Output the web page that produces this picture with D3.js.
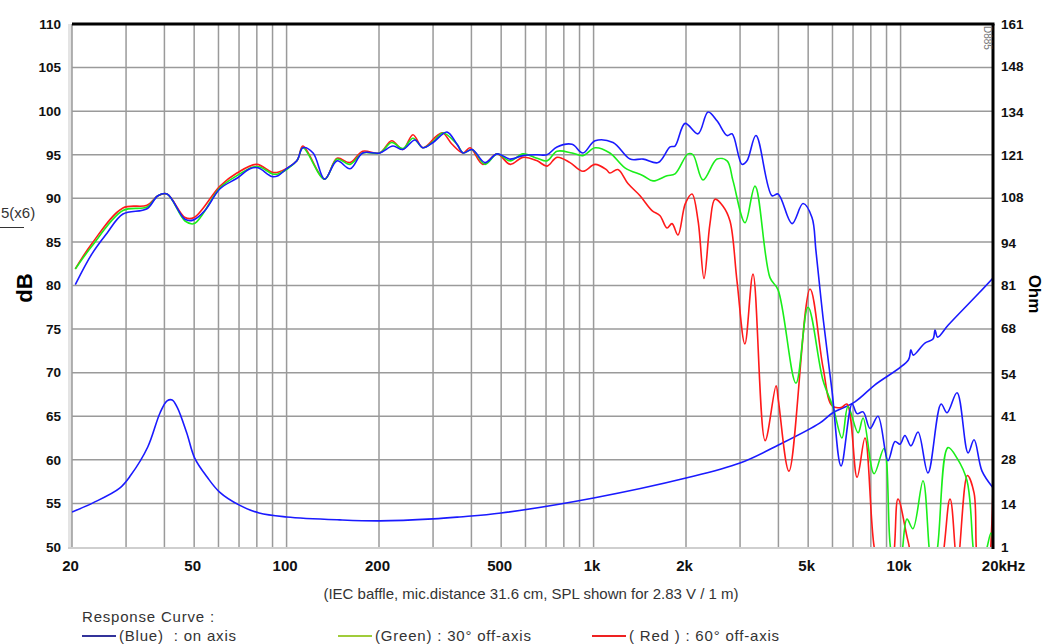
<!DOCTYPE html>
<head>
<meta charset="utf-8">
<script src="https://d3js.org/d3.v7.min.js"></script>
<style>
body { margin:0; background:#fff; }
svg { font-family: "Liberation Sans", Arial, sans-serif; }
.grid line { stroke: #9a9a9a; stroke-width: 1.5px; }
.axis text { font-weight: bold; font-size: 13.5px; fill: #111; }
.axis--x text { font-family: "Liberation Sans Narrow", "Liberation Sans", Arial, sans-serif; font-size: 15px; }
.curve { fill: none; stroke-width: 1.6px; stroke-linejoin: round; }
.legend text { font-size: 15px; letter-spacing: 0.8px; fill: #333; white-space: pre; }
</style>
</head>
<body>
<script>
// tick labels
var dbTicks = [50, 55, 60, 65, 70, 75, 80, 85, 90, 95, 100, 105, 110];
var ohmTicks = [1, 14, 28, 41, 54, 68, 81, 94, 108, 121, 134, 148, 161];
var freqLabels = [20, 50, 100, 200, 500, 1000, 2000, 5000, 10000, 20000];
var freqGrid = [20,30,40,50,60,70,80,90,100,200,300,400,500,600,700,800,900,
                1000,2000,3000,4000,5000,6000,7000,8000,9000,10000,20000];

// (Blue) on axis
var blueFreq = [20.5,23.2,26,29.3,35.1,38.1,40.8,46.7,49.6,54.2,60.7,68.9,76,80.7,89.6,93.8,100,108,113,122,133,146,161,177,201,222,239,262,278,300,333,359,376,402,443,485,535,589,655,705,760,851,923,1011,1157,1315,1450,1623,1775,1842,1986,2188,2360,2523,2722,2825,3043,3160,3380,3812,3990,4430,4810,5145,5300,5590,5980,6400,6950,7215,7550,7950,8440,9100,9590,9960,10330,10810,11400,12280,13550,14170,15270,16590,17350,18420,20000];
var blueDb = [80.1,83.6,86.0,88.2,88.8,90.3,90.5,87.6,87.5,88.6,91.1,92.3,93.4,93.5,92.5,92.6,93.4,94.3,95.8,95.2,92.2,94.3,93.4,95.2,95.2,96.0,95.6,96.7,95.8,96.4,97.6,96.2,95.2,95.6,94.1,95.1,94.5,94.9,95.0,95.0,95.9,96.2,95.2,96.6,96.4,94.5,94.5,94.1,95.9,96.0,98.6,97.4,99.9,98.9,97.2,97.4,93.9,94.3,97.2,90.3,90.5,87.1,89.4,87.8,84.0,76.3,67.9,59.3,66.4,65.3,65.5,63.6,65.0,59.9,62.1,61.8,62.8,61.6,63.2,58.5,66.4,65.4,67.7,60.8,62.3,58.7,56.8];

// (Green) 30 deg off axis
var greenFreq = [20.5,23.2,29.3,35.1,38.1,40.8,46.7,50,60.7,68.9,77.8,81.9,90,93.8,108,113,133,146,161,177,201,220,239,258,278,300,323,359,376,402,443,485,535,589,655,705,760,851,923,1011,1130,1265,1450,1562,1734,1842,2030,2108,2272,2523,2722,2846,3114,3356,3755,3990,4563,4994,5590,6030,6442,6740,7270,7550,8195,8830,9240,9590,10030,10490,10970,11830,12380,12660,13200,14270,15270,16460,17220,17650,18970,19700,20000];
var greenDb = [81.9,84.5,88.6,89.0,90.3,90.5,87.4,87.1,91.2,92.6,93.6,93.6,92.8,92.8,94.3,95.8,92.2,94.5,93.9,95.2,95.2,96.4,95.7,96.9,95.8,96.5,97.5,96.2,95.2,95.6,93.9,95.1,94.3,95.1,94.6,94.3,95.4,95.2,94.9,95.8,95.2,93.5,92.6,92.0,92.6,92.8,95.1,95.0,92.1,94.5,94.3,92.0,87.2,91.4,80.9,79.5,68.8,77.5,69.1,66.0,62.5,66.1,63.1,64.8,58.4,61.3,50.4,46.5,48.5,53.2,52.1,57.6,50,46.5,50,61.4,60.2,57.6,50,46.5,49.5,51.6,50.5];

// ( Red ) 60 deg off axis
var redFreq = [20.5,23.2,29.3,35.1,38.1,40.8,46.7,50,60.7,68.9,80,89.6,93.8,108,113,133,146,161,177,201,220,239,258,278,309,323,346,376,396,436,485,535,589,655,705,760,838,923,1011,1100,1130,1200,1294,1417,1550,1646,1734,1801,1883,1990,2092,2190,2289,2394,2486,2640,2782,2932,3110,3306,3620,3930,4000,4330,5070,5590,5980,6400,6690,7215,7656,8195,8700,9300,9808,10570,11500,13000,14490,15300,16500,17350,17870,19000,20000];
var redDb = [81.9,84.8,88.9,89.2,90.3,90.5,87.8,87.8,91.4,92.9,93.9,93.0,93.0,94.3,96.0,92.2,94.6,94.1,95.4,95.2,96.6,95.6,97.3,95.8,97.2,97.5,96.2,95.2,95.8,93.9,95.1,93.9,94.7,94.3,93.7,94.7,94.1,93.1,93.9,93.3,92.9,93.3,91.7,90.3,88.6,88.0,86.6,87.1,85.8,89.4,90.5,87.4,80.8,87.1,89.9,89.1,87.4,80.5,73.3,81.3,62.2,68.5,66.8,58.7,79.6,70.6,66.2,66.0,66.4,58.0,62.5,50.1,46,47,55.5,50.7,46,46,55.5,48,58.2,56.2,48,46,57];

// impedance (right axis, Ohm)
var impFreq = [20,23.4,28.6,31.1,35.3,38.7,40.8,42.4,44,47.3,50.2,55.1,60.5,70.2,81.4,100,149,201,300,366,500,1000,2000,3000,4000,5450,6000,7100,8250,10600,10800,11000,12000,12750,12950,13200,14300,18000,20000];
var impOhm = [11.7,14.5,19.0,23.0,31.6,42.0,45.7,46.0,43.8,35.9,28.2,22.4,17.8,13.8,11.4,10.2,9.3,9.0,9.6,10.2,11.4,16.0,22.1,26.7,32.2,38.9,42.0,45.4,50.6,58.2,61.3,59.7,63.4,64.6,67.4,65.2,68.9,78.7,83.3];

var margin = {top: 24, right: 57, bottom: 97, left: 72},
    width = 1050 - margin.left - margin.right,
    height = 644 - margin.top - margin.bottom;

var svg = d3.select("body").append("svg")
    .attr("width", 1050)
    .attr("height", 644);

var g = svg.append("g")
    .attr("transform", "translate(" + margin.left + "," + margin.top + ")");

var x = d3.scaleLog().domain([20, 20000]).range([0, width]);
var y = d3.scaleLinear().domain([50, 110]).range([height, 0]);
var yOhm = d3.scaleLinear().domain([1, 161]).range([height, 0]);

// light frame left / bottom
g.append("rect")
    .attr("x", -4).attr("y", 0)
    .attr("width", 4).attr("height", height + 2)
    .attr("fill", "#e4e4e4");
g.append("rect")
    .attr("x", -4).attr("y", height)
    .attr("width", width + 4).attr("height", 2)
    .attr("fill", "#cfcfcf");

// grid
var grid = g.append("g").attr("class", "grid");
grid.selectAll(".v").data(freqGrid).enter().append("line")
    .attr("x1", d => x(d)).attr("x2", d => x(d))
    .attr("y1", 0).attr("y2", height);
grid.selectAll(".h").data(dbTicks.slice(1, -1)).enter().append("line")
    .attr("x1", 0).attr("x2", width)
    .attr("y1", d => y(d)).attr("y2", d => y(d));

// curves
g.append("clipPath").attr("id", "plot")
  .append("rect").attr("width", width).attr("height", height);

var line = d3.line()
    .x(d => x(d[0]))
    .y(d => d[2] ? yOhm(d[1]) : y(d[1]))
    .curve(d3.curveCatmullRom.alpha(0.5));

var series = [
  {f: impFreq, v: impOhm, color: "#1a1aff", ohm: true},
  {f: redFreq, v: redDb, color: "#ff1a1a"},
  {f: greenFreq, v: greenDb, color: "#1aee1a"},
  {f: blueFreq, v: blueDb, color: "#1a1aff"}
];

var curves = g.append("g").attr("clip-path", "url(#plot)");
series.forEach(s => {
  curves.append("path")
      .datum(s.f.map((f, i) => [f, s.v[i], s.ohm]))
      .attr("class", "curve")
      .attr("stroke", s.color)
      .attr("d", line);
});

// heavy frame top / right
g.append("line").attr("x1", 0).attr("x2", width + 1.5)
    .attr("y1", 0).attr("y2", 0)
    .attr("stroke", "#000").attr("stroke-width", 3);
g.append("line").attr("x1", width).attr("x2", width)
    .attr("y1", 0).attr("y2", height + 2)
    .attr("stroke", "#000").attr("stroke-width", 3);

// axes
g.append("g").attr("class", "axis")
    .call(d3.axisLeft(y).tickValues(dbTicks).tickSize(0).tickPadding(11))
    .call(a => a.select(".domain").remove());

g.append("g").attr("class", "axis")
    .attr("transform", "translate(" + width + ",0)")
    .call(d3.axisRight(yOhm).tickValues(ohmTicks).tickSize(0).tickPadding(8))
    .call(a => a.select(".domain").remove());

var fmt = d => d >= 1000 ? (d / 1000) + (d === 20000 ? "kHz" : "k") : d;
g.append("g").attr("class", "axis axis--x")
    .attr("transform", "translate(0," + height + ")")
    .call(d3.axisBottom(x).tickValues(freqLabels).tickFormat(fmt).tickSize(0).tickPadding(13))
    .call(a => a.select(".domain").remove())
    .selectAll("text")
    .attr("dx", d => d === 20000 ? "10px" : "-2px");

// axis titles
svg.append("text")
    .attr("transform", "translate(32,288) rotate(-90)")
    .attr("text-anchor", "middle")
    .style("font-weight", "bold").style("font-size", "22px")
    .text("dB");
svg.append("text")
    .attr("transform", "translate(1029,294) rotate(90)")
    .attr("text-anchor", "middle")
    .style("font-weight", "bold").style("font-size", "17px")
    .text("Ohm");

// stray label at left edge
svg.append("text")
    .attr("x", 1).attr("y", 218)
    .style("font-size", "15px").style("fill", "#333")
    .text("5(x6)");
svg.append("line")
    .attr("x1", 0).attr("x2", 24).attr("y1", 227.5).attr("y2", 227.5)
    .attr("stroke", "#333").attr("stroke-width", 1);

// small stamp
svg.append("text")
    .attr("transform", "translate(984,26) rotate(90)")
    .style("font-size", "10px").style("fill", "#777")
    .text("D885");

// caption
svg.append("text")
    .attr("x", 531).attr("y", 599)
    .attr("text-anchor", "middle")
    .style("font-size", "15px").style("fill", "#333")
    .text("(IEC baffle, mic.distance 31.6 cm, SPL shown for 2.83 V / 1 m)");

// legend
var legend = svg.append("g").attr("class", "legend");
legend.append("text").attr("x", 82).attr("y", 622).text("Response Curve :");
var legendItems = [
  {x: 82, color: "#33339a", label: "(Blue)  : on axis"},
  {x: 338, color: "#a0cc3a", label: "(Green) : 30\u00b0 off-axis"},
  {x: 592, color: "#ee2222", label: "( Red ) : 60\u00b0 off-axis"}
];
legendItems.forEach(d => {
  legend.append("line")
      .attr("x1", d.x).attr("x2", d.x + 34)
      .attr("y1", 636).attr("y2", 636)
      .attr("stroke", d.color).attr("stroke-width", 2);
  legend.append("text")
      .attr("x", d.x + 37).attr("y", 641)
      .text(d.label);
});
</script>
</body>
